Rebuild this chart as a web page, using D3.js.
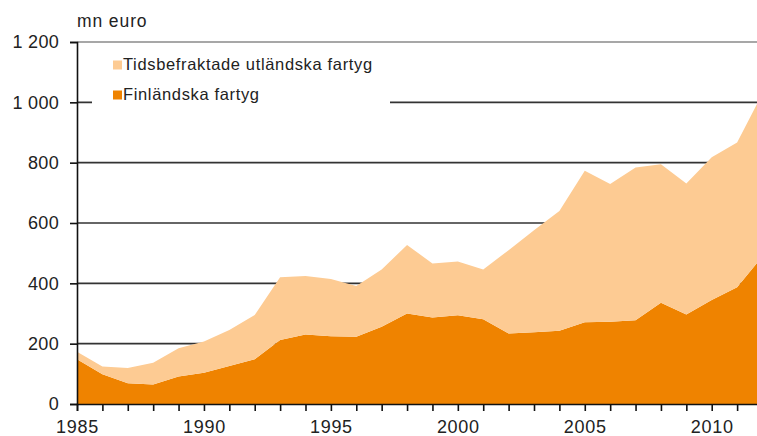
<!DOCTYPE html>
<html>
<head>
<meta charset="utf-8">
<script src="https://cdn.jsdelivr.net/npm/d3@7"></script>
<style>
  body { margin: 0; background: #fff; }
  svg text { font-family: "Liberation Sans", Arial, sans-serif; fill: #222; }
</style>
</head>
<body>
<svg id="chart" width="757" height="436"></svg>
<script>
const years = d3.range(1985, 2013);
const finnish = [148, 99, 69, 65, 91, 104, 126, 148, 212, 230, 225, 223, 256, 300,
  287, 294, 281, 234, 238, 243, 271, 273, 278, 336, 297, 345, 387, 490];
const chartered = [25, 25, 50, 72, 94, 103, 119, 147, 208, 194, 189, 168, 190, 227,
  179, 178, 165, 276, 338, 397, 502, 456, 506, 459, 434, 473, 480, 540];
const yTicks = [0, 200, 400, 600, 800, 1000, 1200];
const xLabels = [1985, 1990, 1995, 2000, 2005, 2010];
const seriesNames = ['Finländska fartyg', 'Tidsbefraktade utländska fartyg'];

const colours = ['#ef8300', '#fdcb93'];

const svg = d3.select('#chart');
const x = d3.scaleLinear().domain([1985, 2012]).range([77, 762.5]);
const y = d3.scaleLinear().domain([0, 1200]).range([404, 42]);
const fmt = d3.formatLocale({ decimal: ',', thousands: ' ', grouping: [3], currency: ['', ''] }).format(',d');

const rows = years.map((yr, i) => ({ year: yr, fin: finnish[i], ch: chartered[i] }));
const stacked = d3.stack().keys(['fin', 'ch'])(rows);

// gridlines, behind the areas
svg.append('g')
  .selectAll('line')
  .data(yTicks.filter((t) => t > 0))
  .join('line')
  .attr('x1', x(1985))
  .attr('x2', 757)
  .attr('y1', (d) => y(d))
  .attr('y2', (d) => y(d))
  .attr('stroke', (d) => (d === 1200 ? '#8a8a8a' : '#333'))
  .attr('stroke-width', 1.6);

const area = d3.area()
  .x((d) => x(d.data.year))
  .y0((d) => y(d[0]))
  .y1((d) => y(d[1]));

svg.append('g')
  .selectAll('path')
  .data(stacked)
  .join('path')
  .attr('d', area)
  .attr('fill', (d, i) => colours[i]);

// legend box hides the grid behind it
const legend = svg.append('g');
legend.append('rect')
  .attr('x', 92).attr('y', 50)
  .attr('width', 298).attr('height', 62)
  .attr('fill', '#fff');

const legendItems = [
  { name: seriesNames[1], colour: colours[1], base: 70 },
  { name: seriesNames[0], colour: colours[0], base: 100 },
];
legendItems.forEach((item) => {
  legend.append('rect')
    .attr('x', 113).attr('y', item.base - 9.5)
    .attr('width', 9).attr('height', 9)
    .attr('fill', item.colour);
  legend.append('text')
    .attr('x', 123).attr('y', item.base)
    .attr('font-size', 16.5)
    .attr('letter-spacing', 0.65)
    .text(item.name);
});

// axes
const yAxis = svg.append('g')
  .attr('transform', `translate(${x(1985)},0)`)
  .call(d3.axisLeft(y).tickValues(yTicks).tickSize(7).tickPadding(11).tickFormat(fmt));
yAxis.select('.domain').attr('stroke', '#111').attr('stroke-width', 1.6);
yAxis.selectAll('.tick line').attr('stroke', '#111').attr('stroke-width', 1.6);
yAxis.selectAll('.tick text')
  .attr('font-size', 18)
  .attr('letter-spacing', 0.3)
  .attr('font-family', '"Liberation Sans", Arial, sans-serif');

const xAxis = svg.append('g')
  .attr('transform', `translate(0,${y(0)})`)
  .call(d3.axisBottom(x).tickValues(years).tickSize(7).tickPadding(9)
    .tickFormat((d) => (xLabels.includes(d) ? d : '')));
xAxis.select('.domain').attr('stroke', '#111').attr('stroke-width', 1.6);
xAxis.selectAll('.tick line').attr('stroke', '#111').attr('stroke-width', 1.6);
xAxis.selectAll('.tick text')
  .attr('font-size', 18)
  .attr('letter-spacing', 0.7)
  .attr('font-family', '"Liberation Sans", Arial, sans-serif');

svg.append('text')
  .attr('x', 77).attr('y', 27)
  .attr('font-size', 17.5)
  .attr('letter-spacing', 0.9)
  .text('mn euro');
</script>
</body>
</html>
